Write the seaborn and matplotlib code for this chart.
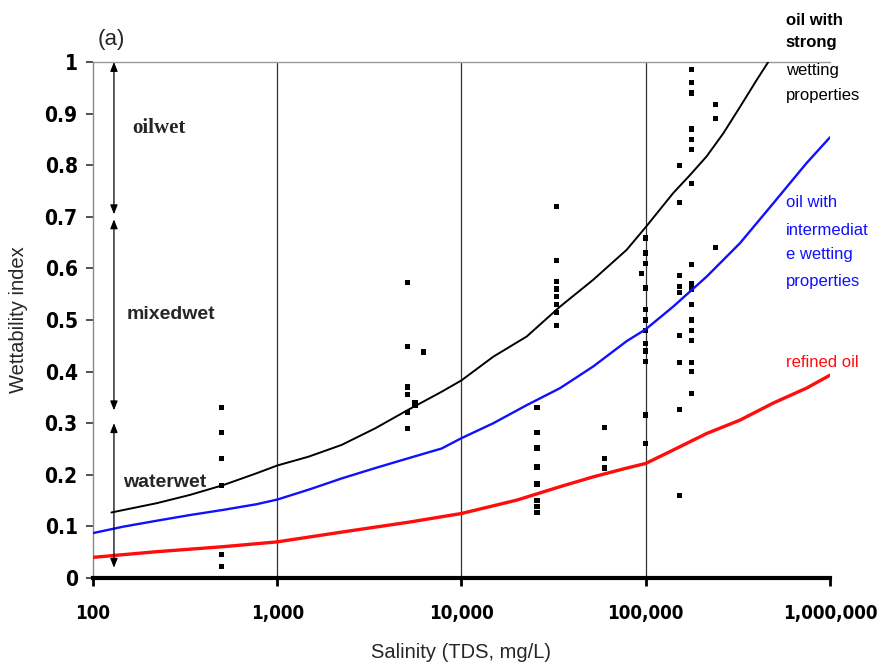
import matplotlib
matplotlib.use("Agg")
import matplotlib.pyplot as plt
import pandas as pd
import seaborn as sns
from matplotlib import font_manager

# ---- data -------------------------------------------------------------
strong_tds = [126, 222, 336, 509, 773, 1000, 1476, 2240, 3400, 5140, 7810, 10000, 14900,
              22600, 34300, 51900, 78800, 100000, 141000, 174000, 214000, 264000, 325000,
              400000, 472000]
strong_wi = [0.127, 0.145, 0.161, 0.180, 0.203, 0.218, 0.235, 0.258, 0.290, 0.326, 0.361,
             0.383, 0.429, 0.468, 0.526, 0.578, 0.636, 0.680, 0.746, 0.781, 0.817, 0.862,
             0.913, 0.965, 1.005]

inter_tds = [100, 146, 222, 336, 509, 773, 1000, 1476, 2240, 3400, 5140, 7810, 10000, 14900,
             22600, 34300, 51900, 78800, 100000, 141000, 214000, 325000, 492000, 746000,
             1000000]
inter_wi = [0.087, 0.0995, 0.111, 0.122, 0.132, 0.143, 0.152, 0.171, 0.193, 0.213, 0.232,
            0.251, 0.271, 0.300, 0.335, 0.368, 0.410, 0.459, 0.482, 0.526, 0.584, 0.649,
            0.726, 0.804, 0.854]

refined_tds = [100, 222, 509, 1000, 2340, 5140, 10000, 20000, 34300, 51900, 78800, 100000,
               141000, 214000, 325000, 492000, 746000, 1000000]
refined_wi = [0.040, 0.051, 0.0607, 0.070, 0.090, 0.108, 0.125, 0.151, 0.177, 0.196, 0.213,
              0.222, 0.248, 0.280, 0.306, 0.339, 0.368, 0.393]

sample_tds = (
    [500] * 6
    + [5100] * 6 + [6200, 5600, 5600]
    + [25700] * 8
    + [32800] * 8
    + [59800] * 3
    + [100000] * 12 + [95000]
    + [153000] * 9
    + [178000] * 17
    + [240000] * 3
)
sample_wi = (
    [0.33, 0.282, 0.232, 0.18, 0.045, 0.022]
    + [0.572, 0.448, 0.37, 0.355, 0.32, 0.29, 0.438, 0.34, 0.335]
    + [0.33, 0.282, 0.252, 0.215, 0.182, 0.15, 0.138, 0.127]
    + [0.72, 0.616, 0.575, 0.56, 0.545, 0.53, 0.515, 0.49]
    + [0.291, 0.232, 0.213]
    + [0.659, 0.63, 0.61, 0.562, 0.52, 0.5, 0.48, 0.455, 0.44, 0.42, 0.316, 0.26, 0.59]
    + [0.80, 0.727, 0.587, 0.565, 0.553, 0.47, 0.417, 0.327, 0.16]
    + [0.985, 0.96, 0.94, 0.87, 0.85, 0.83, 0.765, 0.607, 0.57, 0.56, 0.53, 0.50, 0.48, 0.46, 0.417, 0.40, 0.357]
    + [0.917, 0.89, 0.64]
)

x_ticks = [100, 1000, 10000, 100000, 1000000]
x_ticklabels = ["100", "1,000", "10,000", "100,000", "1,000,000"]
y_ticks = [0, 0.1, 0.2, 0.3, 0.4, 0.5, 0.6, 0.7, 0.8, 0.9, 1.0]
y_ticklabels = ["0", "0.1", "0.2", "0.3", "0.4", "0.5", "0.6", "0.7", "0.8", "0.9", "1"]

# ---- style ------------------------------------------------------------
sns.set_style("white")
plt.rcParams["font.family"] = ["Liberation Sans", "DejaVu Sans"]


def heavy_narrow_font(size):
    """Pick a bold condensed face for the tick labels, if one is installed."""
    best = None
    for f in font_manager.fontManager.ttflist:
        fname = f.fname.lower()
        narrow = ("narrow" in f.name.lower() or "condensed" in fname
                  or str(f.stretch) in ("condensed", "semi-condensed", "extra-condensed"))
        bold = "bold" in fname and "oblique" not in fname and "italic" not in fname
        if narrow and bold:
            rank = 0 if "liberation" in fname else (1 if "dejavusans" in fname.replace("-", "") else 2)
            if best is None or rank < best[0]:
                best = (rank, f.fname)
    if best is not None:
        return font_manager.FontProperties(fname=best[1], size=size)
    return font_manager.FontProperties(family="DejaVu Sans", weight="bold", size=size - 2)


fig = plt.figure(figsize=(8.87, 6.71), dpi=100)
ax = fig.add_axes([0.1048, 0.1386, 0.8309, 0.769])

curves = pd.concat([
    pd.DataFrame({"tds": strong_tds, "wi": strong_wi, "oil": "strong"}),
    pd.DataFrame({"tds": inter_tds, "wi": inter_wi, "oil": "intermediate"}),
    pd.DataFrame({"tds": refined_tds, "wi": refined_wi, "oil": "refined"}),
])
samples = pd.DataFrame({"tds": sample_tds, "wi": sample_wi})

ax.set_xscale("log")
ax.set_xlim(100, 1000000)
ax.set_ylim(0, 1)

# vertical grid at each decade
for xv in [1000, 10000, 100000]:
    ax.axvline(xv, color="#333333", lw=0.9, zorder=1)
ax.axhline(1.0, color="#9a9a9a", lw=1.0, zorder=1, clip_on=False)

sns.scatterplot(data=samples, x="tds", y="wi", marker="s", s=14, color="black",
                edgecolor="none", ax=ax, zorder=3, legend=False)

palette = {"strong": "black", "intermediate": "#1010ff", "refined": "#ff0d0d"}
widths = {"strong": 1.4, "intermediate": 1.7, "refined": 2.4}
for name, grp in curves.groupby("oil", sort=False):
    sns.lineplot(data=grp, x="tds", y="wi", color=palette[name], lw=widths[name],
                 ax=ax, zorder=4, legend=False, estimator=None, sort=False)

# axes and ticks
ax.set_xticks(x_ticks)
ax.set_xticklabels(x_ticklabels)
ax.set_yticks(y_ticks)
ax.set_yticklabels(y_ticklabels)
ax.minorticks_off()
x_font = heavy_narrow_font(13.5)
y_font = heavy_narrow_font(15)
for lab in ax.get_xticklabels():
    lab.set_fontproperties(x_font)
    lab.set_color("black")
for lab in ax.get_yticklabels():
    lab.set_fontproperties(y_font)
    lab.set_color("black")
ax.tick_params(axis="x", direction="out", length=6, width=2, color="black", pad=13, bottom=True)
ax.tick_params(axis="y", direction="out", length=5, width=1.2, color="#333333", pad=6, left=True)

for side in ["top", "right"]:
    ax.spines[side].set_visible(False)
ax.spines["left"].set_color("#8a8a8a")
ax.spines["left"].set_linewidth(1.0)
ax.spines["bottom"].set_color("black")
ax.spines["bottom"].set_linewidth(3.0)

ax.set_xlabel("Salinity (TDS, mg/L)", fontsize=14.5, labelpad=14)
ax.set_ylabel("Wettability index", fontsize=14.5, labelpad=12)

# wettability class ranges
arrow_x = 130
for y0, y1 in [(1.0, 0.705), (0.695, 0.325), (0.30, 0.02)]:
    ax.annotate("", xy=(arrow_x, y1), xytext=(arrow_x, y0),
                arrowprops=dict(arrowstyle="<|-|>,head_length=0.55,head_width=0.22",
                                color="black", lw=0.9, shrinkA=0, shrinkB=0),
                zorder=5, annotation_clip=False)

ax.text(163, 0.872, "oilwet", fontsize=15, fontweight="bold", va="center",
        family=["Liberation Serif", "DejaVu Serif"])
ax.text(153, 0.51, "mixedwet", fontsize=14, fontweight="bold", va="center")
ax.text(146, 0.186, "waterwet", fontsize=14, fontweight="bold", va="center")
ax.text(106, 1.043, "(a)", fontsize=16, va="center")

# curve labels on the right
lx = 577000
for yv, s, w in [(1.081, "oil with", "bold"), (1.037, "strong", "bold"),
                 (0.984, "wetting", "normal"), (0.936, "properties", "normal")]:
    ax.text(lx, yv, s, fontsize=12, fontweight=w, color="black", va="center")
for yv, s in [(0.727, "oil with"), (0.674, "intermediat"), (0.626, "e wetting"), (0.574, "properties")]:
    ax.text(lx, yv, s, fontsize=12, color="#1010ff", va="center")
ax.text(lx, 0.417, "refined oil", fontsize=12, color="#ff0d0d", va="center")

fig.savefig("out.png", dpi=100)
